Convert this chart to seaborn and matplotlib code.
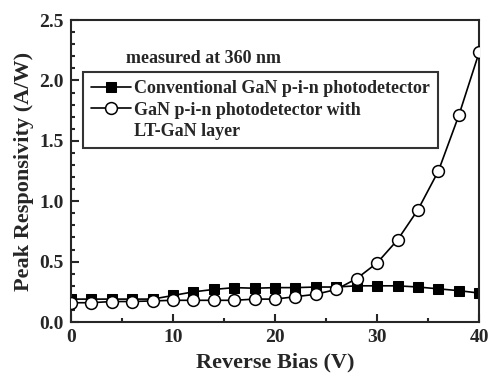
import matplotlib
matplotlib.use("Agg")
import matplotlib.pyplot as plt
from matplotlib.lines import Line2D
from matplotlib.ticker import MultipleLocator
import numpy as np
import pandas as pd
import seaborn as sns

# reverse bias (V)
bias = [0, 2, 4, 6, 8, 10, 12, 14, 16, 18, 20, 22, 24, 26, 28, 30, 32, 34, 36, 38, 40]

# peak responsivity (A/W)
conventional = [0.19, 0.19, 0.19, 0.19, 0.19, 0.22, 0.25, 0.27, 0.285, 0.28, 0.285, 0.285,
                0.29, 0.29, 0.30, 0.30, 0.30, 0.29, 0.275, 0.26, 0.24]
lt_gan = [0.16, 0.16, 0.17, 0.17, 0.175, 0.18, 0.18, 0.18, 0.18, 0.19, 0.19, 0.21,
          0.23, 0.27, 0.36, 0.49, 0.68, 0.93, 1.25, 1.71, 2.235]

label_conv = "Conventional GaN p-i-n photodetector"
label_lt = "GaN p-i-n photodetector with LT-GaN layer"
legend_lines = ["Conventional GaN p-i-n photodetector",
                "GaN p-i-n photodetector with",
                "LT-GaN layer"]

df = pd.DataFrame({
    "bias": bias * 2,
    "resp": conventional + lt_gan,
    "device": [label_conv] * len(bias) + [label_lt] * len(bias),
})

sns.set_style("ticks")
plt.rcParams["font.family"] = ["Liberation Serif", "DejaVu Serif"]
plt.rcParams["font.weight"] = "bold"

fig = plt.figure(figsize=(4.89, 3.78), dpi=100)
ax = fig.add_axes([0.145, 0.148, 0.835, 0.799])

sns.lineplot(data=df, x="bias", y="resp", hue="device", style="device",
             palette=["black", "black"], markers=["s", "o"], dashes=False,
             linewidth=1.2, markersize=7, ax=ax, legend=True)

# open circles
for line in ax.lines:
    if line.get_marker() == "o":
        line.set_markerfacecolor("white")
        line.set_markeredgecolor("black")
        line.set_markersize(8.5)
        line.set_markeredgewidth(1.1)
        line.set_zorder(3)
    else:
        line.set_markeredgecolor("black")
        line.set_markerfacecolor("black")

ax.set_xlim(0, 40)
ax.set_ylim(0, 2.5)
ax.xaxis.set_major_locator(MultipleLocator(10))
ax.xaxis.set_minor_locator(MultipleLocator(5))
ax.yaxis.set_major_locator(MultipleLocator(0.5))
ax.yaxis.set_minor_locator(MultipleLocator(0.1))
ax.tick_params(which="both", direction="in", top=False, right=False, width=1.5,
               labelsize=14)
ax.tick_params(which="major", length=6, pad=5)
ax.tick_params(which="minor", length=3)
for lab in ax.get_xticklabels() + ax.get_yticklabels():
    lab.set_fontweight("bold")
for s in ax.spines.values():
    s.set_linewidth(1.5)
    s.set_visible(True)

ax.set_xlabel("Reverse Bias (V)", fontsize=16, fontweight="bold", labelpad=5)
ax.set_ylabel("Peak Responsivity (A/W)", fontsize=16, fontweight="bold", labelpad=4)

ax.text(0.135, 0.874, "measured at 360 nm", transform=ax.transAxes,
        fontsize=13, fontweight="bold", va="center", ha="left")

# legend: second entry's text wraps onto a third row without a handle
handles, _ = ax.get_legend_handles_labels()
handles = list(handles[:2]) + [Line2D([], [], linestyle="none")]
leg = ax.legend(handles, legend_lines, loc="upper left",
                bbox_to_anchor=(0.029, 0.828), frameon=True,
                fancybox=False, edgecolor="black", fontsize=13,
                handlelength=2.2, handletextpad=0.2, borderpad=0.45,
                labelspacing=0.25, borderaxespad=0)
leg.get_frame().set_linewidth(1.5)
for t in leg.get_texts():
    t.set_fontweight("bold")

fig.savefig("out.png", dpi=100)
